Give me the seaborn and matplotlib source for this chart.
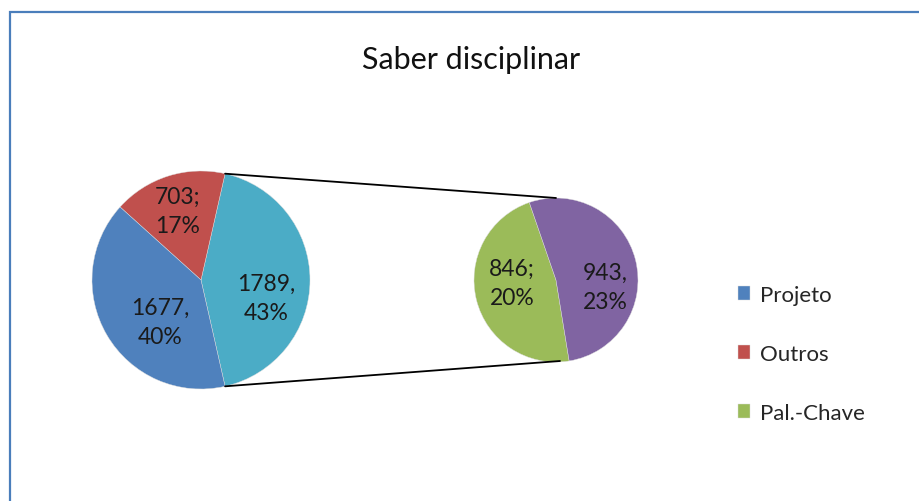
import matplotlib
matplotlib.use("Agg")
import matplotlib.pyplot as plt
import seaborn as sns
import numpy as np
from matplotlib.patches import Rectangle

# Data
main_labels = ["Projeto", "Outros", "Outro"]
main_values = [1677, 703, 1789]
sub_labels = ["Pal.-Chave", "Outro2"]
sub_values = [846, 943]
label_text_main = ["1677,\n40%", "703;\n17%", "1789,\n43%"]
label_text_sub = ["846;\n20%", "943,\n23%"]
legend_labels = ["Projeto", "Outros", "Pal.-Chave"]
title = "Saber disciplinar"

sns.set_theme(style="white")
plt.rcParams['font.family'] = ['Lato', 'DejaVu Sans']

colors_main = ["#4F81BD", "#C0504D", "#4BACC6"]
colors_sub = ["#9BBB59", "#8064A2"]

W, H = 919, 502
fig = plt.figure(figsize=(W / 100, H / 100), dpi=100)
ax = fig.add_axes([0, 0, 1, 1])

def py(y):
    return H - y

# main pie
c1 = (201, py(281))
r1 = 109
total_main = sum(main_values)
other_frac = main_values[2] / total_main
start1 = -other_frac * 360 / 2
wedges1, _ = ax.pie([main_values[2], main_values[1], main_values[0]],
                    colors=[colors_main[2], colors_main[1], colors_main[0]],
                    startangle=start1, center=c1, radius=r1, frame=True,
                    wedgeprops=dict(linewidth=0.3, edgecolor="#dddddd"))

# secondary pie
c2 = (556, py(281))
r2 = 82
start2 = 109
wedges2, _ = ax.pie(sub_values, colors=colors_sub, startangle=start2,
                    counterclock=True, center=c2, radius=r2, frame=True,
                    wedgeprops=dict(linewidth=0.3, edgecolor="#dddddd"))
ax.set_xlim(0, W)
ax.set_ylim(0, H)
ax.set_aspect("equal")
ax.axis("off")

# connector lines
a = np.deg2rad(other_frac * 360 / 2)
p_top = (c1[0] + r1 * np.cos(a), c1[1] + r1 * np.sin(a))
p_bot = (c1[0] + r1 * np.cos(-a), c1[1] + r1 * np.sin(-a))
ax.plot([p_top[0], c2[0]], [p_top[1], c2[1] + r2], color="black", lw=1.3)
ax.plot([p_bot[0], c2[0] + 4], [p_bot[1], c2[1] - r2 + 1], color="black", lw=1.3)

# labels
fs = 16.5
main_pos = [(160, 323), (178, 212), (266, 299)]
for t, (x, y) in zip(label_text_main, main_pos):
    ax.text(x, py(y), t, ha="center", va="center", fontsize=fs, color="#1a1a1a",
            linespacing=1.5)
sub_pos = [(512, 284), (605, 288)]
for t, (x, y) in zip(label_text_sub, sub_pos):
    ax.text(x, py(y), t, ha="center", va="center", fontsize=fs, color="#1a1a1a",
            linespacing=1.5)

# title
ax.text(471, py(60), title, ha="center", va="center", fontsize=22, color="#111111")

# legend
handles = [wedges1[2], wedges1[1], wedges2[0]]
leg = ax.legend(handles, legend_labels, loc="upper left",
                bbox_to_anchor=(718 / W, py(266) / H), frameon=False,
                fontsize=16, labelspacing=1.75, handlelength=0.55,
                handleheight=0.55, handletextpad=0.45)

# border
fig.patches.append(Rectangle((10 / W, -0.1), 1.2, (H - 13) / H + 0.1,
                             transform=fig.transFigure, fill=False,
                             edgecolor="#4a7ebb", linewidth=1.6))

fig.savefig("out.png", dpi=100, facecolor="white")
